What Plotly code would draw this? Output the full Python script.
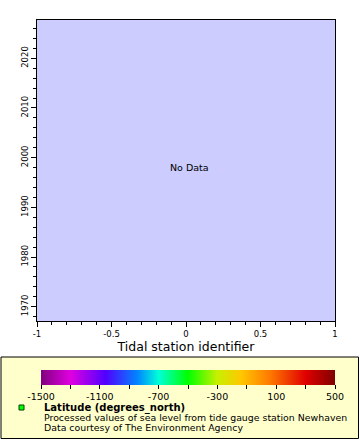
import math
import plotly.graph_objects as go

# ---- data ----
station_ids = [None]      # no data available
times = [None]
sea_level = [math.nan]

x_range = [-1, 1]
y_range = [1967.12, 2027.7]
x_tickvals = [-1, -0.5, 0, 0.5, 1]
x_ticktext = ["-1", "-0.5", "0", "0.5", "1"]
y_tickvals = [1970, 1980, 1990, 2000, 2010, 2020]
color_min = -1500
color_max = 500
cb_tickvals = [-1500, -1300, -1100, -900, -700, -500, -300, -100, 100, 300, 500]
cb_ticktext = ["-1500", " ", "-1100", " ", "-700", " ", "-300", " ", "100", " ", "500"]
legend_title = "Latitude (degrees_north)"
legend_lines = ["Processed values of sea level from tide gauge station Newhaven",
                "Data courtesy of The Environment Agency"]
x_title = "Tidal station identifier"

colorscale = [
    [0.00, "#800080"], [0.10, "#E000E0"], [0.22, "#5000FF"], [0.33, "#0088FF"],
    [0.40, "#00FFD8"], [0.50, "#00FF00"], [0.60, "#C8F000"], [0.68, "#FFC800"],
    [0.78, "#FF7800"], [0.90, "#E00000"], [1.00, "#800000"],
]

W, H = 360, 440
L, R, T, B = 37, 335, 20, 321
FONT = "DejaVu Sans"

def px(x):
    return (x - L) / (R - L)

def py(y):
    return (B - y) / (B - T)

fig = go.Figure()
fig.add_trace(go.Scatter(
    x=station_ids, y=times, mode="markers", showlegend=False, hoverinfo="skip",
    marker=dict(color=sea_level, cmin=color_min, cmax=color_max,
                colorscale=colorscale, showscale=True,
                colorbar=dict(orientation="h", x=px(188), xanchor="center",
                              y=py(370), yanchor="top", len=(335 - 41) / (R - L),
                              lenmode="fraction", thickness=15, thicknessmode="pixels",
                              xpad=0, ypad=0, outlinewidth=0, bgcolor="rgba(0,0,0,0)",
                              tickmode="array", tickvals=cb_tickvals, ticktext=cb_ticktext,
                              ticks="outside", ticklen=4, tickcolor="black",
                              tickfont=dict(family=FONT, size=9.5, color="black"))),
))

fig.update_layout(
    width=W, height=H,
    margin=dict(l=L, r=W - R, t=T, b=H - B, autoexpand=False),
    paper_bgcolor="white", plot_bgcolor="#CCCCFF",
    font=dict(family=FONT, color="black"),
    xaxis=dict(range=x_range, tickmode="array", tickvals=x_tickvals, ticktext=x_ticktext,
               ticks="outside", ticklen=5, tickcolor="black", showgrid=False, zeroline=False,
               showline=True, linecolor="black", linewidth=1, mirror=True,
               tickfont=dict(size=8.5),
               minor=dict(dtick=0.1, ticks="outside", ticklen=3, tickcolor="black", showgrid=False),
               title=dict(text=x_title, font=dict(size=12.5), standoff=4)),
    yaxis=dict(range=y_range, tickmode="array", tickvals=y_tickvals,
               ticks="outside", ticklen=5, tickcolor="black", showgrid=False, zeroline=False,
               showline=True, linecolor="black", linewidth=1, mirror=True,
               tickangle=-90, tickfont=dict(size=8.5),
               minor=dict(dtick=2, ticks="outside", ticklen=3, tickcolor="black", showgrid=False)),
)

# legend box
fig.add_shape(type="rect", xref="paper", yref="paper",
              x0=px(1), x1=px(358.5), y0=py(357), y1=py(438.5),
              fillcolor="#FFFFCC", line=dict(color="black", width=1), layer="below")
# legend marker
fig.add_shape(type="rect", xref="paper", yref="paper",
              x0=px(19), x1=px(24), y0=py(405), y1=py(410),
              fillcolor="#00FF00", line=dict(color="#004000", width=1), layer="above")

fig.add_annotation(text="No Data", xref="paper", yref="paper", x=px(189.5), y=py(167),
                   showarrow=False, font=dict(size=9.5), xanchor="center", yanchor="middle")
fig.add_annotation(text="<b>" + legend_title + "</b>", xref="paper", yref="paper",
                   x=px(42), y=py(407.6), xanchor="left", yanchor="middle",
                   showarrow=False, font=dict(size=10))
for i, line in enumerate(legend_lines):
    fig.add_annotation(text=line, xref="paper", yref="paper",
                       x=px(42), y=py(417.4 + 9.9 * i), xanchor="left", yanchor="middle",
                       showarrow=False, font=dict(size=9.4))

fig.write_html("out.html", config={"displayModeBar": False},
               post_script="document.body.style.margin='0';")
